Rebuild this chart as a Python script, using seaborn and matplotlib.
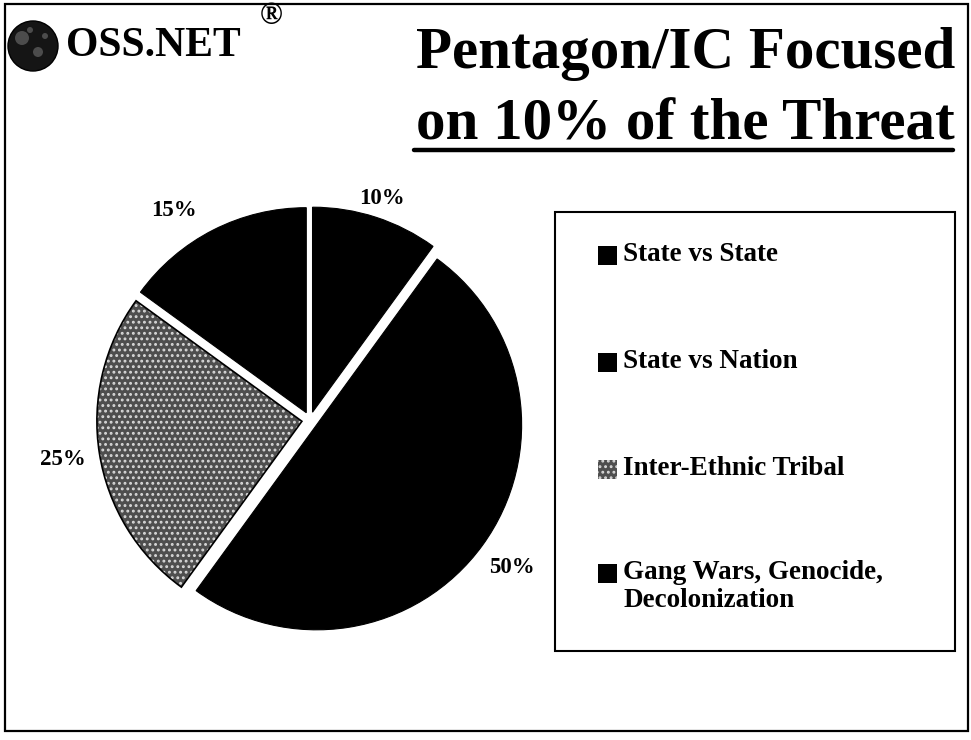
"""
plot.py — Recreate the OSS.NET "Pentagon/IC Focused on 10% of the Threat" slide.

Usage:
    python plot.py   ->  out.png
"""

import numpy as np
import matplotlib
matplotlib.use("Agg")  # non-interactive backend
import matplotlib.pyplot as plt
from matplotlib.patches import Rectangle, Circle, Wedge
from matplotlib.lines import Line2D
import seaborn as sns

# ── Data ──────────────────────────────────────────────────────────────────────

# pie order (clockwise from 12 o'clock)
slice_labels = ["State vs State", "Gang Wars, Genocide,\nDecolonization",
                "Inter-Ethnic Tribal", "State vs Nation"]
slice_values = [10, 50, 25, 15]

# legend order as shown on the slide
legend_order = ["State vs State", "State vs Nation", "Inter-Ethnic Tribal",
                "Gang Wars, Genocide,\nDecolonization"]

title_line1 = "Pentagon/IC Focused"
title_line2 = "on 10% of the Threat"

# ── Style ─────────────────────────────────────────────────────────────────────

STIPPLE = {"facecolor": "#4e4e4e", "edgecolor": "#d8d8d8", "hatch": "..."}
SOLID = {"facecolor": "black", "edgecolor": "black", "hatch": None}
SLICE_STYLE = {
    "State vs State": SOLID,
    "Gang Wars, Genocide,\nDecolonization": SOLID,
    "Inter-Ethnic Tribal": STIPPLE,
    "State vs Nation": SOLID,
}

# per-label (radius scale, extra rotation in degrees) for the percentage labels
LABEL_NUDGE = {0: (0.93, 0), 3: (1.0, 6)}

sns.set_theme(style="white")
plt.rcParams["font.family"] = ["Liberation Serif", "DejaVu Serif"]
plt.rcParams["font.weight"] = "bold"
plt.rcParams["text.color"] = "black"
plt.rcParams["hatch.linewidth"] = 1.3

W, H, DPI = 971, 740, 100


def px(x, y):
    """pixel (from top-left) -> figure fraction"""
    return x / W, 1 - y / H


def draw_header(fig):
    # slide border
    fig.patches.append(Rectangle(px(5, 731), 963 / W, 727 / H, transform=fig.transFigure,
                                 fill=False, edgecolor="black", linewidth=1.6))

    # logo: globe + OSS.NET + (R)
    fig.patches.append(Circle((33, H - 46), 25, transform=None,
                              facecolor="#151515", edgecolor="black"))
    for gx, gy, r in [(22, 38, 7), (38, 52, 5), (30, 30, 3), (45, 36, 3)]:
        fig.patches.append(Circle((gx, H - gy), r, transform=None, facecolor="#5a5a5a",
                                  edgecolor="none", alpha=0.8))
    fig.text(*px(66, 46), "OSS.NET", fontsize=30, fontweight="heavy",
             ha="left", va="center")
    fig.text(*px(271, 17), "®", fontsize=22, ha="center", va="center")

    # title
    fig.text(*px(955, 68), title_line1, fontsize=42.5, fontweight="bold",
             ha="right", va="baseline")
    t2 = fig.text(*px(955, 140), title_line2, fontsize=42.5, fontweight="bold",
                  ha="right", va="baseline")

    # underline of second title line
    fig.canvas.draw()
    bb = t2.get_window_extent()
    y_line = H - 150
    fig.lines.append(Line2D([bb.x0 - 2, bb.x1 - 2], [y_line, y_line], transform=None,
                            color="black", linewidth=3.2))


def draw_pie(fig):
    R = 205
    cx, cy = 310, 420
    span = 1.35
    ax = fig.add_axes([(cx - span * R) / W, (H - cy - span * R) / H,
                       2 * span * R / W, 2 * span * R / H])

    wedges, _, autotexts = ax.pie(
        slice_values,
        explode=[0.04] * len(slice_values),
        startangle=90,
        counterclock=False,
        autopct="%d%%",
        pctdistance=1.18,
        wedgeprops={"linewidth": 0.8},
        textprops={"fontsize": 16.5, "fontweight": "bold"},
    )
    for w, lab in zip(wedges, slice_labels):
        st = SLICE_STYLE[lab]
        w.set_facecolor(st["facecolor"])
        w.set_edgecolor(st["edgecolor"])
        if st["hatch"]:
            w.set_hatch(st["hatch"])
            w.set_linewidth(0)
            # dark outline on top of the stippled wedge
            ax.add_patch(Wedge(w.center, w.r, w.theta1, w.theta2, fill=False,
                               edgecolor="black", linewidth=1.2))

    # small placement tweaks of the percentage labels
    for i, (scale, rot) in LABEL_NUDGE.items():
        x, y = autotexts[i].get_position()
        r = np.hypot(x, y) * scale
        a = np.arctan2(y, x) + np.deg2rad(rot)
        autotexts[i].set_position((r * np.cos(a), r * np.sin(a)))

    ax.set_xlim(-span, span)
    ax.set_ylim(-span, span)
    ax.set_aspect("equal")
    ax.axis("off")
    return ax


def draw_legend(fig):
    # frame
    fig.patches.append(Rectangle((555, H - 651), 400, 439, transform=None,
                                 fill=False, edgecolor="black", linewidth=1.5))
    row_y = [255, 362, 469, 573]
    for lab, y in zip(legend_order, row_y):
        st = SLICE_STYLE[lab]
        fig.patches.append(Rectangle((598, H - y - 10), 19, 19, transform=None,
                                     facecolor=st["facecolor"], edgecolor=st["edgecolor"],
                                     hatch=st["hatch"], linewidth=0))
        fig.text(623 / W, 1 - (y - 13) / H, lab, fontsize=19.5, fontweight="bold",
                 ha="left", va="top", linespacing=1.15)


def main():
    fig = plt.figure(figsize=(W / DPI, H / DPI), dpi=DPI)
    fig.patch.set_facecolor("white")
    draw_pie(fig)
    draw_legend(fig)
    draw_header(fig)
    fig.savefig("out.png", dpi=DPI)
    plt.close(fig)


if __name__ == "__main__":
    main()
